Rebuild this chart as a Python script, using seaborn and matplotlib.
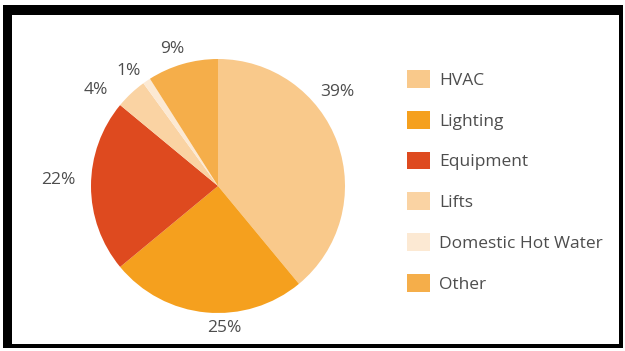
import numpy as np
import matplotlib
matplotlib.use("Agg")
import matplotlib.pyplot as plt
from matplotlib.patches import Rectangle
import seaborn as sns

# Energy end-use breakdown
categories = ["HVAC", "Lighting", "Equipment", "Lifts", "Domestic Hot Water", "Other"]
shares = [39, 25, 22, 4, 1, 9]
pct_labels = ["39%", "25%", "22%", "4%", "1%", "9%"]
colors = ["#F9C98B", "#F5A01E", "#DE4A1F", "#FAD3A3", "#FCE9D3", "#F5AE4A"]

# label placement tweaks (angle offset in degrees, radial distance)
label_angle_shift = [19, 8, -3, 8, 3, 2]
label_dist = [1.21, 1.10, 1.26, 1.23, 1.16, 1.15]

sns.set_style("white")
plt.rcParams["font.family"] = ["Open Sans", "DejaVu Sans"]
text_color = "#4D4D4D"

W, H = 625, 351
fig = plt.figure(figsize=(W / 100, H / 100), dpi=100)
fig.patch.set_facecolor("white")

# pie axes: centre (218, 186) px, radius 127 px
cx, cy, R = 218, 186, 127
half = 1.4 * R
ax = fig.add_axes([(cx - half) / W, (H - cy - half) / H, 2 * half / W, 2 * half / H])
wedges, _ = ax.pie(shares, colors=colors, startangle=90, counterclock=False,
                   radius=1.0, wedgeprops=dict(linewidth=0))
ax.set_xlim(-1.4, 1.4)
ax.set_ylim(-1.4, 1.4)
ax.set_aspect("equal")
ax.axis("off")

for w, lab, da, d in zip(wedges, pct_labels, label_angle_shift, label_dist):
    mid = np.deg2rad((w.theta1 + w.theta2) / 2 + da)
    ax.text(d * np.cos(mid), d * np.sin(mid), lab, ha="center", va="center_baseline",
            fontsize=12.5, color=text_color, clip_on=False)

# legend
leg = fig.legend(wedges, categories, loc="upper left",
                 bbox_to_anchor=(407 / W, 1 - 70 / H), frameon=False,
                 fontsize=12.5, labelcolor=text_color,
                 handlelength=1.33, handleheight=1.2, handletextpad=0.5,
                 labelspacing=1.27, borderaxespad=0, borderpad=0)

# frame: heavy top/left edges, thin right/bottom edges
def frame_band(x0, y0, x1, y1):
    fig.patches.append(Rectangle((x0 / W, 1 - y1 / H), (x1 - x0) / W, (y1 - y0) / H,
                                 transform=fig.transFigure, facecolor="black",
                                 edgecolor="none"))

frame_band(3, 5, 623, 15)     # top
frame_band(3, 5, 12, 348)     # left
frame_band(619, 5, 623, 348)  # right
frame_band(3, 344, 623, 348)  # bottom

fig.savefig("out.png", dpi=100)
